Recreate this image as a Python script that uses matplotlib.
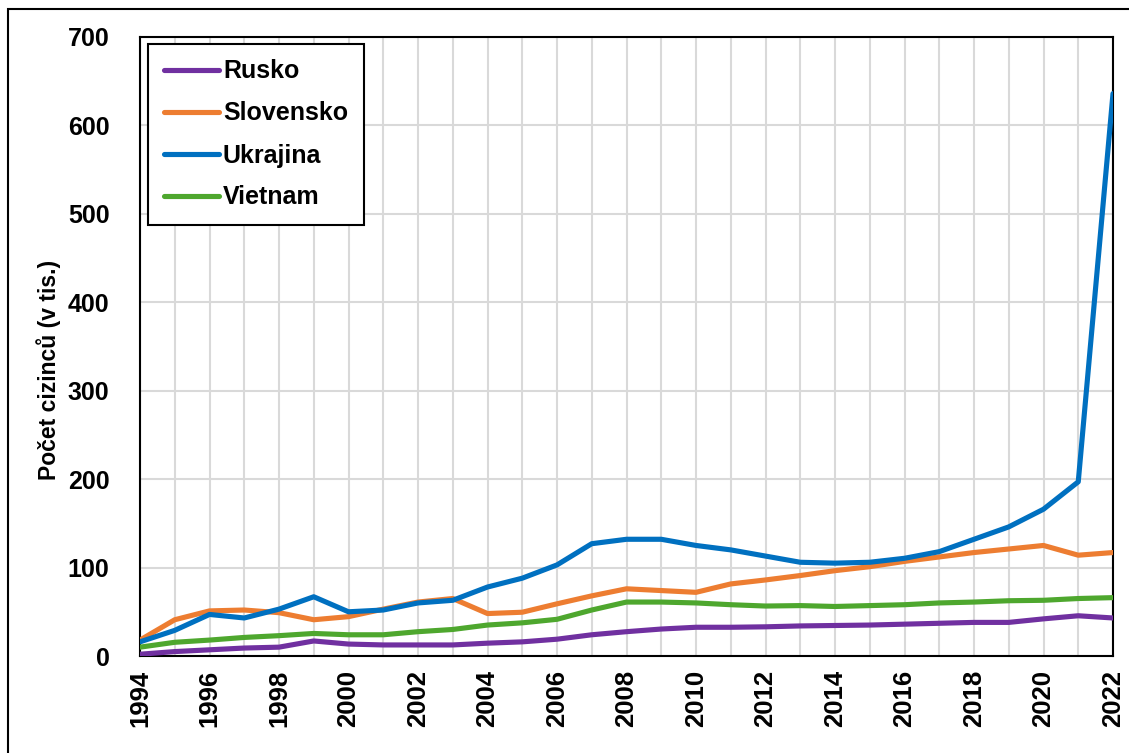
import matplotlib
matplotlib.use("Agg")
import matplotlib.pyplot as plt
from matplotlib.patches import Rectangle

years = list(range(1994, 2023))
rusko = [2, 5, 7, 9, 10, 17, 13.5, 12.5, 12.5, 12.5, 14.5, 16, 19, 24, 27.5, 30.5, 32.5,
         32.5, 33, 34, 34.5, 35, 36, 37, 38, 38, 42, 45.5, 43]
slovensko = [18, 41, 51, 52, 49, 41, 44.5, 53, 61, 65, 48, 49.5, 59, 68, 76, 74, 72,
             81.5, 86, 91, 96.5, 101, 107, 112, 117, 121, 125, 114, 117]
ukrajina = [16, 29, 47, 43, 53, 67, 50, 52, 60, 63, 78, 88, 103, 127, 132, 132, 125,
            120, 113, 106, 105, 106, 110.5, 118, 132, 146, 166, 197, 636]
vietnam = [10, 15.5, 18, 21, 23, 25.5, 24, 24, 27.5, 30, 35, 37.5, 41.5, 52, 61, 61, 60,
           58, 56.5, 57, 56, 57, 58, 60, 61, 62.5, 63, 65, 66]

series_names = ["Rusko", "Slovensko", "Ukrajina", "Vietnam"]
series_values = [rusko, slovensko, ukrajina, vietnam]
colors = ["#7030A0", "#ED7D31", "#0070C0", "#4EA72E"]
ylabel = "Počet cizinců (v tis.)"
yticks = [0, 100, 200, 300, 400, 500, 600, 700]
xticks = list(range(1994, 2023, 2))

plt.rcParams["font.family"] = ["Liberation Sans", "DejaVu Sans"]
plt.rcParams["font.weight"] = "bold"

W, H = 1129, 753
fig = plt.figure(figsize=(W / 100, H / 100), dpi=100)
left, right, top, bottom = 140, 1113, 37, 656
ax = fig.add_axes([left / W, 1 - bottom / H, (right - left) / W, (bottom - top) / H])

for name, vals, c in zip(series_names, series_values, colors):
    ax.plot(years, vals, color=c, lw=3.7, label=name, solid_capstyle="round",
            solid_joinstyle="round", zorder=3)

ax.set_xlim(1994, 2022)
ax.set_ylim(0, 700)
ax.set_xticks(years, minor=True)
ax.set_xticks(xticks)
ax.set_xticklabels([str(x) for x in xticks], rotation=90, fontsize=18.5, fontweight="bold")
ax.set_yticks(yticks)
ax.set_yticklabels([str(y) for y in yticks], fontsize=18, fontweight="bold")
ax.tick_params(axis="both", which="both", length=0)
ax.tick_params(axis="y", pad=22)
ax.tick_params(axis="x", pad=10)
ax.grid(True, which="both", axis="x", color="#d9d9d9", lw=1.5, zorder=0)
ax.grid(True, which="major", axis="y", color="#d9d9d9", lw=1.5, zorder=0)
ax.set_axisbelow(True)
for s in ax.spines.values():
    s.set_color("black")
    s.set_linewidth(1.5)

ax.set_ylabel(ylabel, fontsize=16.5, fontweight="bold")
ax.yaxis.set_label_coords(-79 / (right - left), (bottom - 370) / (bottom - top))

leg = ax.legend(loc="upper left", bbox_to_anchor=(8 / (right - left), 1 - 7 / (bottom - top)),
                borderaxespad=0, prop={"size": 18, "weight": "bold"}, handlelength=2.2,
                handletextpad=0.18, labelspacing=0.72, borderpad=0.62, fancybox=False,
                framealpha=1, edgecolor="black")
leg.get_frame().set_linewidth(1.5)

fig.patches.append(Rectangle((8 / W, -0.1), 1.2, 1 - 9 / H + 0.1, transform=fig.transFigure,
                             fill=False, edgecolor="black", lw=1.5, clip_on=False))

fig.savefig("out.png", dpi=100)
